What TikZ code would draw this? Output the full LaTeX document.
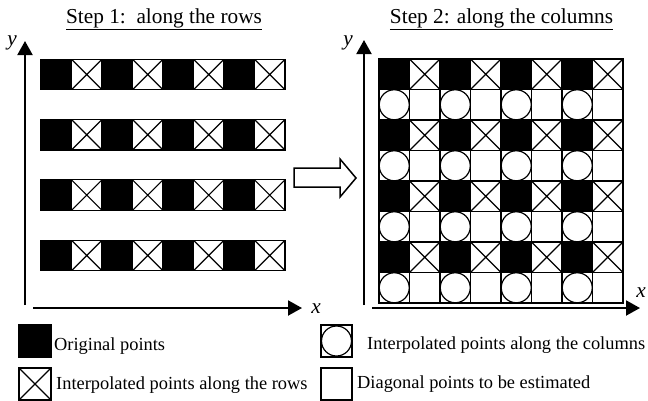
\documentclass[tikz,border=0pt]{standalone}
\usepackage{fontspec}
\setmainfont{Liberation Serif}
\usetikzlibrary{arrows.meta}

\newcommand{\capfont}{\fontsize{21.3}{24}\selectfont}
\newcommand{\legfont}{\fontsize{18.4}{21}\selectfont}

\tikzset{
    cell/.style={rectangle, draw=black, line width=1.2pt, minimum width=30.5pt, minimum height=30.5pt, inner sep=0pt, outer sep=0pt},
    origpt/.style={cell, fill=black},
    rowpt/.style={cell, fill=white, path picture={
        \draw[line width=1.2pt] (path picture bounding box.south west) -- (path picture bounding box.north east)
            (path picture bounding box.north west) -- (path picture bounding box.south east);}},
    colpt/.style={cell, fill=white, path picture={
        \draw[line width=1.2pt] (path picture bounding box.center) circle[radius=15pt];}},
    diagpt/.style={cell, fill=white},
    axis/.style={line width=2pt, -{Triangle[length=14pt,width=15pt]}},
    legtext/.style={anchor=base west, inner sep=0pt, font=\legfont},
}

\begin{document}
\begin{tikzpicture}[x=1pt, y=-1pt]
    \useasboundingbox (0,0) rectangle (648,400);

    % Step 1: along the rows
    \node[anchor=base, font=\capfont] (cap1) at (164,23) {\underline{Step 1:\ \ along the rows}};
    \foreach \r in {0,...,3}{
        \foreach \c/\s in {0/origpt,1/rowpt,2/origpt,3/rowpt,4/origpt,5/rowpt,6/origpt,7/rowpt}{
            \node[\s] (L\r\c) at ({56.25+30.5*\c},{74.5+60.3*\r}) {};
        }
    }
    \coordinate (Lorgy) at (25,305);
    \coordinate (Ltipy) at (25,41);
    \coordinate (Lorgx) at (33,308);
    \coordinate (Ltipx) at (302,308);
    \draw[axis] (Lorgy) -- (Ltipy);
    \draw[axis] (Lorgx) -- (Ltipx);
    \node[font=\capfont\itshape, inner sep=0pt, anchor=base] (Lylab) at (12,45) {y};
    \node[font=\capfont\itshape, inner sep=0pt, anchor=base] (Lxlab) at (316,313) {x};

    % hollow arrow
    \draw[line width=1.5pt, fill=white] (294,168) -- (340,168) -- (340,159) -- (356,178)
        -- (340,197) -- (340,187) -- (294,187) -- cycle;

    % Step 2: along the columns
    \node[anchor=base, font=\capfont] (cap2) at (501.5,23) {\underline{Step 2: along the columns}};
    \foreach \r in {0,...,7}{
        \foreach \c in {0,...,7}{
            \pgfmathtruncatemacro{\k}{2*mod(\r,2)+mod(\c,2)}
            \ifcase\k \def\s{origpt}\or \def\s{rowpt}\or \def\s{colpt}\or \def\s{diagpt}\fi
            \node[\s] (R\r\c) at ({394.25+30.5*\c},{74.25+30.5*\r}) {};
        }
    }
    \coordinate (Rorgy) at (364,305);
    \coordinate (Rtipy) at (364,40);
    \coordinate (Rorgx) at (372,308);
    \coordinate (Rtipx) at (640,308);
    \draw[axis] (Rorgy) -- (Rtipy);
    \draw[axis] (Rorgx) -- (Rtipx);
    \node[font=\capfont\itshape, inner sep=0pt, anchor=base] (Rylab) at (348,45) {y};
    \node[font=\capfont\itshape, inner sep=0pt, anchor=base] (Rxlab) at (641,297) {x};

    % legend
    \node[origpt, minimum width=32pt, minimum height=32pt] (legorig) at (35,341) {};
    \node[legtext] (txtorig) at (54,350) {Original points};
    \node[rowpt, minimum width=32pt, minimum height=32pt] (legrow) at (35,384) {};
    \node[legtext] (txtrow) at (56,389) {Interpolated points along the rows};
    \node[colpt, minimum width=31pt, minimum height=32pt] (legcol) at (336.5,341) {};
    \node[legtext] (txtcol) at (367,349) {Interpolated points along the columns};
    \node[diagpt, minimum width=31pt, minimum height=32pt] (legdiag) at (336.5,384) {};
    \node[legtext] (txtdiag) at (357,388) {Diagonal points to be estimated};
\end{tikzpicture}
\end{document}
